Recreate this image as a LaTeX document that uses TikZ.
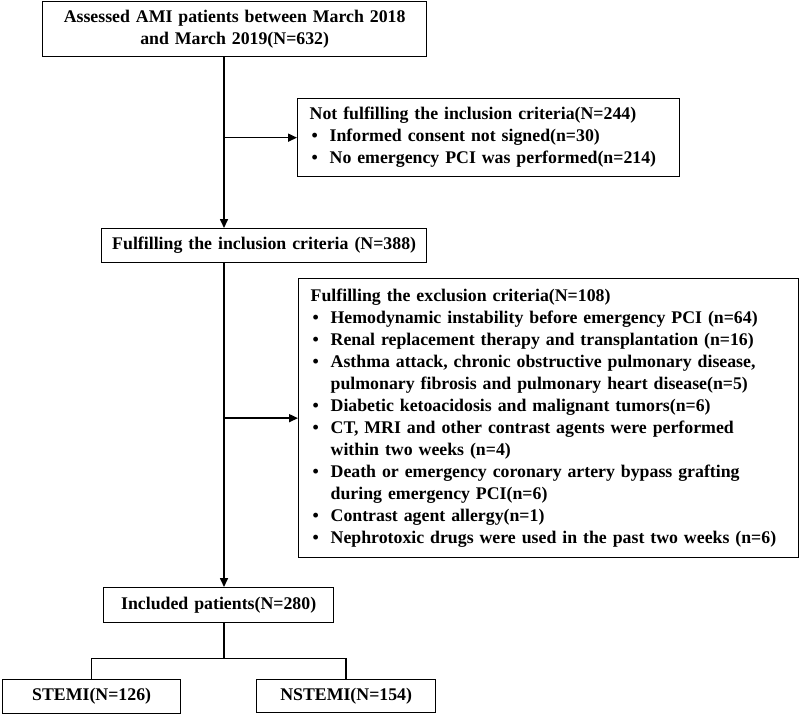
\documentclass[tikz,border=0pt]{standalone}
\usepackage{fontspec}
\setmainfont{Liberation Serif}
\usetikzlibrary{arrows.meta}
\hyphenpenalty=10000
\exhyphenpenalty=10000

\tikzset{
  box/.style={draw, line width=1.3pt, inner ysep=0pt, inner xsep=12pt, anchor=north west,
    font=\fontsize{17.8}{22}\selectfont\bfseries},
  arr/.style={line width=1.6pt, -{Triangle[length=9pt,width=8pt]}},
  link/.style={line width=1.6pt},
}
\newcommand{\bul}{\par\noindent\hangindent=20pt\hangafter=1\makebox[20pt][l]{\hspace{2pt}\textbullet}}

\begin{document}
\begin{tikzpicture}[x=1pt,y=-1pt]
		%%%%% START %%%%%
		\useasboundingbox (0,0) rectangle (800,717);
		
		\node[box, minimum width=384, minimum height=55, text width=360, align=center] (assessed) at (42,1)
		  {Assessed AMI patients between March 2018\\and March 2019(N=632)};
		
		\node[box, minimum width=382, minimum height=78, text width=358, align=left] (notfull) at (297,98)
		  {Not fulfilling the inclusion criteria(N=244)
		   \bul Informed consent not signed(n=30)
		   \bul No emergency PCI was performed(n=214)};
		
		\node[box, minimum width=325, minimum height=34, inner xsep=0pt, text width=325, align=center] (incl) at (101,228)
		  {Fulfilling the inclusion criteria (N=388)};
		
		\node[box, minimum width=500, minimum height=279, text width=476, align=left] (excl) at (298,278)
		  {Fulfilling the exclusion criteria(N=108)
		   \bul Hemodynamic instability before emergency PCI (n=64)
		   \bul Renal replacement therapy and transplantation (n=16)
		   \bul Asthma attack, chronic obstructive pulmonary disease,\newline pulmonary fibrosis and pulmonary heart disease(n=5)
		   \bul Diabetic ketoacidosis and malignant tumors(n=6)
		   \bul CT, MRI and other contrast agents were performed\newline within two weeks (n=4)
		   \bul Death or emergency coronary artery bypass grafting\newline during emergency PCI(n=6)
		   \bul Contrast agent allergy(n=1)
		   \bul Nephrotoxic drugs were used in the past two weeks (n=6)};
		
		\node[box, minimum width=230, minimum height=35, text width=206, align=center] (included) at (103,587)
		  {Included patients(N=280)};
		
		\node[box, minimum width=178, minimum height=34, text width=154, align=center] (stemi) at (2,679)
		  {STEMI(N=126)};
		\node[box, minimum width=179, minimum height=33, text width=155, align=center] (nstemi) at (256,679)
		  {NSTEMI(N=154)};
		
		% main trunk
		\coordinate (trunk) at (224,0);
		\draw[arr] (assessed.south -| trunk) -- (incl.north -| trunk);
		\draw[arr] (trunk |- notfull.west) -- (notfull.west);
		\draw[arr] (incl.south -| trunk) -- (included.north -| trunk);
		\draw[arr] (trunk |- excl.west) -- (excl.west);
		
		% split into the two groups
		\draw[link] (included.south -| trunk) -- ++(0,35) coordinate (split);
		\draw[link] (stemi.north) |- (split) -| (nstemi.north);
		
		%%%%% END %%%%%
\end{tikzpicture}
\end{document}
